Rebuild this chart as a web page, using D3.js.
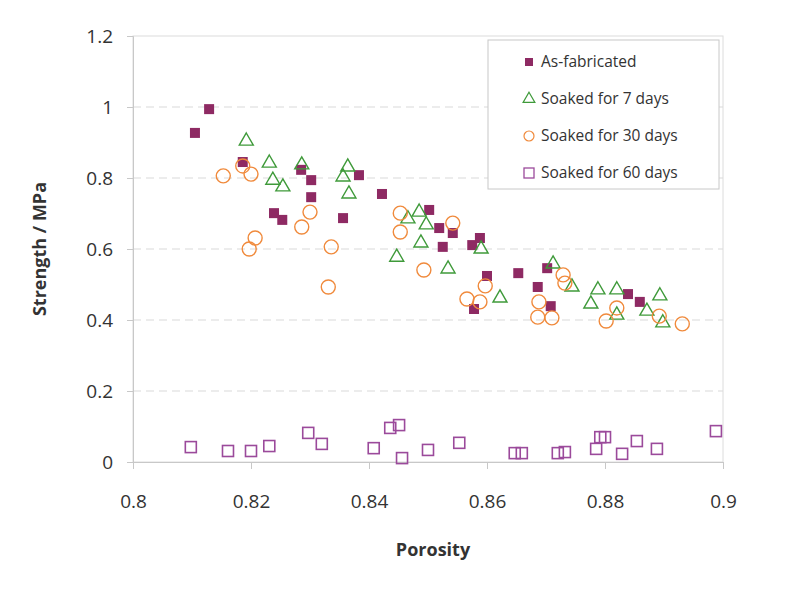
<!DOCTYPE html>
<meta charset="utf-8">
<script src="https://d3js.org/d3.v7.min.js"></script>
<style>
  body { margin: 0; background: #fff; }
  text { font-family: "Open Sans", sans-serif; fill: #333; }
</style>
<div id="chart"></div>
<script>
  // porosity / strength pairs
  var asFabX = [0.8129, 0.8105, 0.8186, 0.8285, 0.8302, 0.8302, 0.8239, 0.8253, 0.8383, 0.8422, 0.8356, 0.8502, 0.8519, 0.8542, 0.8525, 0.8575, 0.8588, 0.8600, 0.8653, 0.8578, 0.8702, 0.8686, 0.8708, 0.8839, 0.8859];
  var asFabY = [0.994, 0.927, 0.845, 0.823, 0.794, 0.746, 0.701, 0.682, 0.808, 0.755, 0.687, 0.710, 0.659, 0.645, 0.606, 0.611, 0.631, 0.524, 0.532, 0.431, 0.546, 0.493, 0.439, 0.473, 0.451];

  var soak7X = [0.8192, 0.8231, 0.8237, 0.8254, 0.8286, 0.8364, 0.8356, 0.8366, 0.8466, 0.8485, 0.8497, 0.8488, 0.8447, 0.8534, 0.8590, 0.8622, 0.8712, 0.8744, 0.8788, 0.8776, 0.8820, 0.8871, 0.8820, 0.8893, 0.8898];
  var soak7Y = [0.904, 0.842, 0.794, 0.775, 0.837, 0.831, 0.803, 0.755, 0.685, 0.704, 0.668, 0.617, 0.577, 0.544, 0.600, 0.462, 0.558, 0.493, 0.485, 0.445, 0.485, 0.425, 0.414, 0.468, 0.392];

  var soak30X = [0.8153, 0.8186, 0.8200, 0.8300, 0.8286, 0.8207, 0.8197, 0.8336, 0.8331, 0.8453, 0.8453, 0.8542, 0.8493, 0.8597, 0.8566, 0.8588, 0.8729, 0.8732, 0.8688, 0.8686, 0.8710, 0.8820, 0.8802, 0.8892, 0.8931];
  var soak30Y = [0.806, 0.834, 0.811, 0.704, 0.662, 0.631, 0.600, 0.606, 0.493, 0.701, 0.648, 0.673, 0.541, 0.496, 0.459, 0.451, 0.527, 0.504, 0.451, 0.408, 0.406, 0.434, 0.397, 0.411, 0.389];

  var soak60X = [0.8098, 0.8161, 0.8200, 0.8231, 0.8297, 0.8320, 0.8408, 0.8436, 0.8451, 0.8456, 0.8500, 0.8553, 0.8647, 0.8659, 0.8720, 0.8732, 0.8785, 0.8792, 0.8800, 0.8829, 0.8854, 0.8888, 0.8988];
  var soak60Y = [0.042, 0.031, 0.031, 0.045, 0.082, 0.051, 0.039, 0.096, 0.104, 0.011, 0.034, 0.054, 0.025, 0.025, 0.025, 0.028, 0.037, 0.070, 0.070, 0.023, 0.059, 0.037, 0.087];

  var seriesNames = ["As-fabricated", "Soaked for 7 days", "Soaked for 30 days", "Soaked for 60 days"];
  var xTicks = [0.8, 0.82, 0.84, 0.86, 0.88, 0.9];
  var yTicks = [0, 0.2, 0.4, 0.6, 0.8, 1, 1.2];

  var margin = {top: 36, right: 77, bottom: 129, left: 133},
      width = 800 - margin.left - margin.right,
      height = 591 - margin.top - margin.bottom;

  var svg = d3.select("#chart").append("svg")
      .attr("width", 800)
      .attr("height", 591)
    .append("g")
      .attr("transform", "translate(" + margin.left + "," + margin.top + ")");

  var x = d3.scaleLinear().domain([0.8, 0.9]).range([0, width]);
  var y = d3.scaleLinear().domain([0, 1.2]).range([height, 0]);

  // gridlines
  svg.append("g").selectAll("line")
    .data(yTicks.filter(d => d > 0 && d < 1.2))
    .enter().append("line")
      .attr("x1", 0).attr("x2", width)
      .attr("y1", d => y(d)).attr("y2", d => y(d))
      .attr("stroke", "#d9d9d9")
      .attr("stroke-dasharray", "8,5");

  // plot frame
  svg.append("rect")
    .attr("width", width).attr("height", height)
    .attr("fill", "none").attr("stroke", "#dcdcdc");

  var xAxis = svg.append("g")
    .attr("transform", "translate(0," + height + ")")
    .call(d3.axisBottom(x).tickValues(xTicks).tickFormat(d3.format("")).tickSize(7).tickPadding(26));
  var yAxis = svg.append("g")
    .call(d3.axisLeft(y).tickValues(yTicks).tickFormat(d3.format("")).tickSize(6).tickPadding(14));

  [xAxis, yAxis].forEach(function(a) {
    a.select(".domain").attr("stroke", "#c8c8c8");
    a.selectAll(".tick line").attr("stroke", "#c8c8c8");
    a.selectAll(".tick text").style("font-size", "19px").style("font-family", "Open Sans, sans-serif").attr("fill", "#333");
  });

  svg.append("text")
    .attr("x", width / 2 + 5)
    .attr("y", height + 94)
    .attr("text-anchor", "middle")
    .style("font-size", "18px")
    .style("font-weight", "bold")
    .attr("fill", "#111")
    .text("Porosity");

  svg.append("text")
    .attr("transform", "rotate(-90)")
    .attr("x", -height / 2)
    .attr("y", -87)
    .attr("text-anchor", "middle")
    .style("font-size", "18px")
    .style("font-weight", "bold")
    .attr("fill", "#111")
    .text("Strength / MPa");

  var tri = d3.symbol().type(d3.symbolTriangle).size(85);

  // 60 days
  svg.append("g").selectAll("rect")
    .data(d3.zip(soak60X, soak60Y))
    .enter().append("rect")
      .attr("x", d => x(d[0]) - 5.5).attr("y", d => y(d[1]) - 5.5)
      .attr("width", 11).attr("height", 11)
      .attr("fill", "none").attr("stroke", "#9b4a9b").attr("stroke-width", 1.6);

  // as-fabricated
  svg.append("g").selectAll("rect")
    .data(d3.zip(asFabX, asFabY))
    .enter().append("rect")
      .attr("x", d => x(d[0]) - 5).attr("y", d => y(d[1]) - 5)
      .attr("width", 10).attr("height", 10)
      .attr("fill", "#8e2a63");

  // 7 days
  svg.append("g").selectAll("path")
    .data(d3.zip(soak7X, soak7Y))
    .enter().append("path")
      .attr("d", tri)
      .attr("transform", d => "translate(" + x(d[0]) + "," + y(d[1]) + ")")
      .attr("fill", "none").attr("stroke", "#3f9a3a").attr("stroke-width", 1.4);

  // 30 days
  svg.append("g").selectAll("circle")
    .data(d3.zip(soak30X, soak30Y))
    .enter().append("circle")
      .attr("cx", d => x(d[0])).attr("cy", d => y(d[1]))
      .attr("r", 7)
      .attr("fill", "none").attr("stroke", "#f08a3c").attr("stroke-width", 1.4);

  // legend
  var lg = d3.select("svg").append("g").attr("transform", "translate(488,40)");
  lg.append("rect").attr("width", 231).attr("height", 149)
    .attr("fill", "#fff").attr("stroke", "#c8c8c8");
  var rows = lg.selectAll("g.row").data(seriesNames).enter().append("g")
    .attr("transform", (d, i) => "translate(41," + (22 + i * 37) + ")");
  rows.each(function(d, i) {
    var g = d3.select(this);
    if (i === 0) g.append("rect").attr("x", -4).attr("y", -4).attr("width", 8).attr("height", 8).attr("fill", "#8e2a63");
    if (i === 1) g.append("path").attr("d", d3.symbol().type(d3.symbolTriangle).size(60)).attr("fill", "none").attr("stroke", "#3f9a3a").attr("stroke-width", 1.2);
    if (i === 2) g.append("circle").attr("r", 5).attr("fill", "none").attr("stroke", "#f08a3c").attr("stroke-width", 1.2);
    if (i === 3) g.append("rect").attr("x", -5).attr("y", -5).attr("width", 10).attr("height", 10).attr("fill", "none").attr("stroke", "#9b4a9b").attr("stroke-width", 1.3);
  });
  rows.append("text")
    .attr("x", 12).attr("dy", "0.35em")
    .style("font-size", "15.5px")
    .attr("fill", "#222")
    .text(d => d);
</script>
